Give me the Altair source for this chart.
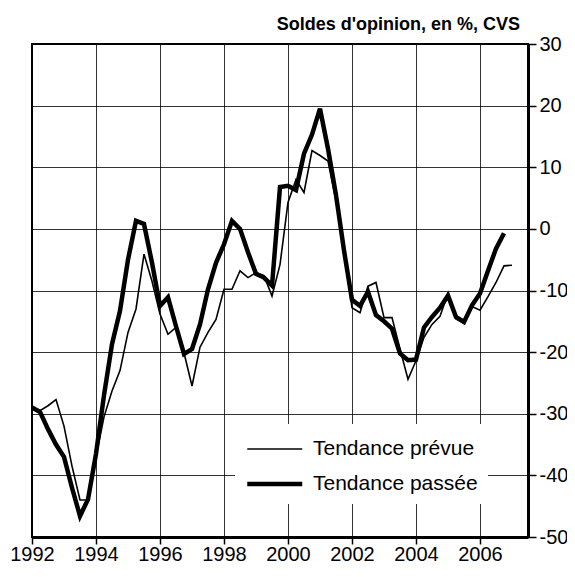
import altair as alt
import pandas as pd

FONT = "Liberation Sans"

# quarterly dates (1992 Q1 ... 2007 Q1)
quarters = [1992 + i * 0.25 for i in range(61)]

# Tendance passée (1992 Q1 - 2006 Q4)
passee = [
    -29.0, -29.7, -32.5, -35.0,
    -37.0, -42.0, -46.6, -43.9,
    -36.5, -27.0, -18.7, -13.3,
    -5.0, 1.3, 0.8, -5.5,
    -12.5, -11.1, -15.8, -20.3,
    -19.5, -15.5, -9.8, -5.5,
    -2.5, 1.3, 0.0, -3.8,
    -7.3, -7.9, -9.2, 6.8,
    7.0, 6.3, 12.2, 15.3,
    19.5, 13.0, 5.5, -3.5,
    -11.5, -12.5, -10.2, -14.0,
    -15.0, -16.2, -20.2, -21.3,
    -21.2, -16.0, -14.3, -12.8,
    -10.8, -14.3, -15.1, -12.4,
    -10.5, -6.8, -3.2, -0.7,
]

# Tendance prévue (1992 Q1 - 2007 Q1)
prevue = [
    -29.0, -29.5, -28.7, -27.7,
    -32.0, -38.5, -44.0, -44.0,
    -37.0, -30.5, -26.3, -23.0,
    -16.8, -13.0, -4.1, -8.5,
    -13.8, -17.1, -16.0, -20.1,
    -25.5, -19.2, -16.8, -14.7,
    -9.8, -9.8, -6.8, -7.9,
    -7.1, -7.6, -10.9, -5.8,
    4.3, 8.0, 5.9, 12.7,
    11.9, 11.0, 4.5, -3.5,
    -12.8, -13.6, -9.3, -8.7,
    -14.4, -14.4, -19.5, -24.4,
    -21.4, -17.6, -15.5, -14.2,
    -10.5, -14.6, -15.3, -12.6,
    -13.2, -11.0, -8.7, -6.0,
    -5.9,
]

series_names = ["Tendance prévue", "Tendance passée"]
x_ticks = [1992, 1994, 1996, 1998, 2000, 2002, 2004, 2006]
y_ticks = [-50, -40, -30, -20, -10, 0, 10, 20, 30]
title_text = ["Soldes d'opinion, en %, CVS"]

rows = []
for t, v in zip(quarters, prevue):
    rows.append({"t": t, "v": v, "serie": series_names[0]})
for t, v in zip(quarters, passee):
    rows.append({"t": t, "v": v, "serie": series_names[1]})
df = pd.DataFrame(rows)

lines = alt.Chart(df).mark_line(color="black").encode(
    x=alt.X(
        "t:Q",
        scale=alt.Scale(domain=[1992, 2007.5], nice=False, zero=False),
        axis=alt.Axis(
            values=x_ticks, format="d", title=None, grid=True,
            gridColor="black", gridWidth=1, gridOpacity=0.8,
            domainColor="black", domainWidth=3,
            tickColor="black", tickSize=7, tickWidth=1.5,
            labelFont=FONT, labelFontSize=20, labelColor="black",
            labelPadding=0, labelFlush=False, labelOverlap=False,
        ),
    ),
    y=alt.Y(
        "v:Q",
        scale=alt.Scale(domain=[-50, 30], nice=False, zero=False),
        axis=alt.Axis(
            orient="right", values=y_ticks, title=None, grid=True,
            gridColor="black", gridWidth=1, gridOpacity=0.8,
            domainColor="black", domainWidth=3,
            tickColor="black", tickSize=8, tickWidth=1.5,
            labelFont=FONT, labelFontSize=20, labelColor="black",
            labelExpr="'' + datum.value",
            labelPadding=3, labelFlush=False, labelOverlap=False,
        ),
    ),
    strokeWidth=alt.StrokeWidth(
        "serie:N",
        scale=alt.Scale(domain=series_names, range=[1.6, 4.5]),
        legend=alt.Legend(
            title=None, orient="none", legendX=203, legendY=380,
            direction="vertical",
            symbolType="M-1,0L3,0", symbolSize=756,
            symbolStrokeColor="black", symbolFillColor="transparent",
            labelFont=FONT, labelFontSize=21, labelColor="black",
            labelOffset=36, labelLimit=400, rowPadding=9,
            fillColor="white", padding=10,
        ),
    ),
)

title = alt.Chart(pd.DataFrame({"txt": title_text})).mark_text(
    align="right", baseline="alphabetic", font=FONT, fontSize=18,
    fontWeight="bold", color="black",
).encode(
    text="txt:N",
    x=alt.value(488),
    y=alt.value(-14),
)

chart = alt.layer(lines, title).properties(
    width=496,
    height=493,
    autosize=alt.AutoSizeParams(type="none"),
    padding={"left": 24, "top": 36, "right": 39, "bottom": 28},
).configure_view(
    stroke="black", strokeWidth=2
)

chart.save("out.html", embed_options={"renderer": "svg", "actions": False})
